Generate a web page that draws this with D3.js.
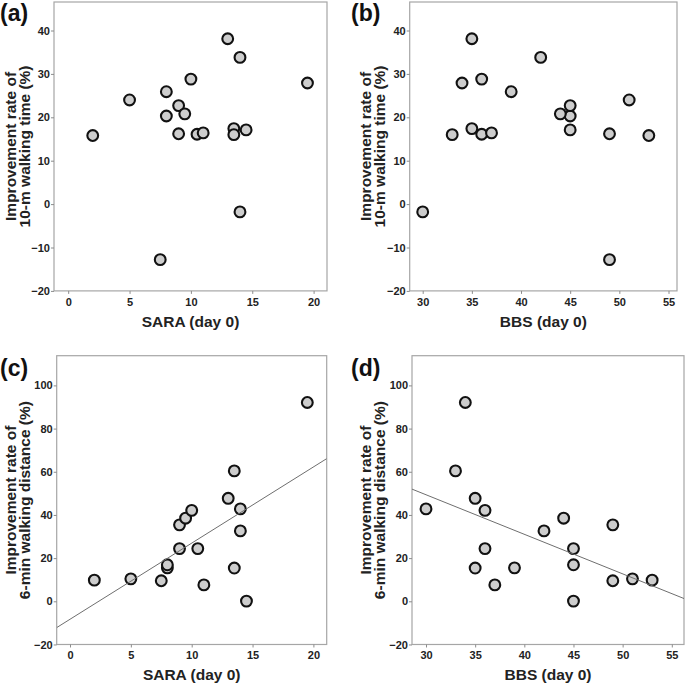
<!DOCTYPE html>
<html>
<head>
<meta charset="utf-8">
<script src="https://cdn.jsdelivr.net/npm/d3@7"></script>
<style>
  html, body { margin: 0; padding: 0; background: #fff; }
  svg { display: block; font-family: "Liberation Sans", Arial, sans-serif; }
</style>
</head>
<body>
<svg id="chart" width="685" height="683"></svg>
<script>
// ---- data (one entry per patient) ----
const sara      = [2, 5, 7.5, 8, 8, 9, 9, 9.5, 10, 10.5, 11, 13, 13.5, 13.5, 14, 14, 14.5, 19.5];
const bbs       = [53, 51, 49, 39, 45, 45, 49, 44, 36, 36, 37, 35, 35, 33, 42, 30, 45, 34];
const walk10m   = [15.8, 24.0, -12.8, 25.9, 20.3, 22.7, 16.2, 20.8, 28.8, 16.1, 16.4, 38.1, 17.4, 16.0, 33.8, -1.8, 17.1, 27.9];
const walk6min  = [9.8, 10.4, 9.5, 15.5, 16.9, 24.4, 35.4, 38.5, 42.1, 24.4, 7.6, 47.7, 15.4, 60.4, 32.6, 42.8, 0.1, 92.1];

const saraTicks = [0, 5, 10, 15, 20];
const bbsTicks  = [30, 35, 40, 45, 50, 55];
const y10Ticks  = [-20, -10, 0, 10, 20, 30, 40];
const y6Ticks   = [-20, 0, 20, 40, 60, 80, 100];

const panelLetters = ["(a)", "(b)", "(c)", "(d)"];
const xTitles = ["SARA (day 0)", "BBS (day 0)"];
const yTitles10 = ["Improvement rate of", "10-m walking time (%)"];
const yTitles6  = ["Improvement rate of", "6-min walking distance (%)"];

// ---- layout ----
const svg = d3.select("#chart");
const panels = [
  { letter: panelLetters[0], xs: sara, ys: walk10m, xTicks: saraTicks, yTicks: y10Ticks, xTitle: xTitles[0], yTitle: yTitles10,
    xRef: [0, 20], xPx: [68.2, 313.6], yRef: [0, 40], yPx: [204.1, 30.5], left: 54, right: 327, top: 2,
    titleX: [15.5, 30], letterX: 0, letterY: 21, fit: false },
  { letter: panelLetters[1], xs: bbs, ys: walk10m, xTicks: bbsTicks, yTicks: y10Ticks, xTitle: xTitles[1], yTitle: yTitles10,
    xRef: [30, 55], xPx: [422.7, 668.5], yRef: [0, 40], yPx: [204.1, 30.5], left: 409.7, right: 677, top: 2,
    titleX: [370.5, 385], letterX: 351, letterY: 21, fit: false },
  { letter: panelLetters[2], xs: sara, ys: walk6min, xTicks: saraTicks, yTicks: y6Ticks, xTitle: xTitles[0], yTitle: yTitles6,
    xRef: [0, 20], xPx: [70, 313.4], yRef: [0, 100], yPx: [601.3, 385.4], left: 56.7, right: 326.7, top: 355.7,
    titleX: [15.5, 30], letterX: 0, letterY: 376, fit: true },
  { letter: panelLetters[3], xs: bbs, ys: walk6min, xTicks: bbsTicks, yTicks: y6Ticks, xTitle: xTitles[1], yTitle: yTitles6,
    xRef: [30, 55], xPx: [426, 671.8], yRef: [0, 100], yPx: [601.3, 385.4], left: 412, right: 684, top: 355.7,
    titleX: [370.5, 385], letterX: 351, letterY: 376, fit: true }
];

function leastSquares(xs, ys) {
  const mx = d3.mean(xs), my = d3.mean(ys);
  let sxy = 0, sxx = 0;
  xs.forEach((x, i) => { sxy += (x - mx) * (ys[i] - my); sxx += (x - mx) * (x - mx); });
  const b = sxy / sxx;
  return { a: my - b * mx, b };
}

panels.forEach((p, pi) => {
  const xRaw = d3.scaleLinear().domain(p.xRef).range(p.xPx);
  const yRaw = d3.scaleLinear().domain(p.yRef).range(p.yPx);
  const yMin = p.yTicks[0];
  const bottom = yRaw(yMin);
  const x = d3.scaleLinear().domain([xRaw.invert(p.left), xRaw.invert(p.right)]).range([p.left, p.right]);
  const y = d3.scaleLinear().domain([yMin, yRaw.invert(p.top)]).range([bottom, p.top]);

  const g = svg.append("g");

  // frame
  g.append("rect")
    .attr("x", p.left).attr("y", p.top)
    .attr("width", p.right - p.left).attr("height", bottom - p.top)
    .attr("fill", "none").attr("stroke", "#a6a6a6").attr("stroke-width", 1.2);

  // axes
  const xAxis = g.append("g").attr("transform", `translate(0,${bottom})`)
    .call(d3.axisBottom(x).tickValues(p.xTicks).tickSize(3).tickPadding(4).tickFormat(d3.format("d")));
  const yAxis = g.append("g").attr("transform", `translate(${p.left},0)`)
    .call(d3.axisLeft(y).tickValues(p.yTicks).tickSize(3).tickPadding(1).tickFormat(d3.format("d")));
  [xAxis, yAxis].forEach(ax => {
    ax.select(".domain").remove();
    ax.selectAll(".tick line").attr("stroke", "#8c8c8c");
    ax.selectAll(".tick text").attr("fill", "#222").style("font-size", "11px").style("font-weight", "bold")
      .style("font-family", "'Liberation Sans', Arial, sans-serif");
  });

  // points
  const pts = p.xs.map((v, i) => ({ x: v, y: p.ys[i] }));
  g.append("g").selectAll("circle").data(pts).join("circle")
    .attr("cx", d => x(d.x)).attr("cy", d => y(d.y)).attr("r", 5.4)
    .attr("fill", "#cdcdcd").attr("stroke", "#111").attr("stroke-width", 2.1);

  // regression line
  if (p.fit) {
    const clipId = "clip" + pi;
    g.append("clipPath").attr("id", clipId).append("rect")
      .attr("x", p.left).attr("y", p.top).attr("width", p.right - p.left).attr("height", bottom - p.top);
    const fit = leastSquares(p.xs, p.ys);
    const [d0, d1] = x.domain();
    g.append("line")
      .attr("clip-path", `url(#${clipId})`)
      .attr("x1", x(d0)).attr("y1", y(fit.a + fit.b * d0))
      .attr("x2", x(d1)).attr("y2", y(fit.a + fit.b * d1))
      .attr("stroke", "#6e6e6e").attr("stroke-width", 1);
  }

  // titles
  g.append("text")
    .attr("x", (p.left + p.right) / 2).attr("y", bottom + 36)
    .attr("text-anchor", "middle").attr("fill", "#222")
    .style("font-size", "15.5px").style("font-weight", "bold")
    .text(p.xTitle);

  const cy = (p.top + bottom) / 2;
  p.yTitle.forEach((t, li) => {
    g.append("text")
      .attr("transform", `translate(${p.titleX[li]},${cy}) rotate(-90)`)
      .attr("text-anchor", "middle").attr("fill", "#222")
      .style("font-size", "15.5px").style("font-weight", "bold")
      .text(t);
  });

  g.append("text")
    .attr("x", p.letterX).attr("y", p.letterY)
    .attr("fill", "#111")
    .style("font-size", "23px").style("font-weight", "bold")
    .text(p.letter);
});
</script>
</body>
</html>
